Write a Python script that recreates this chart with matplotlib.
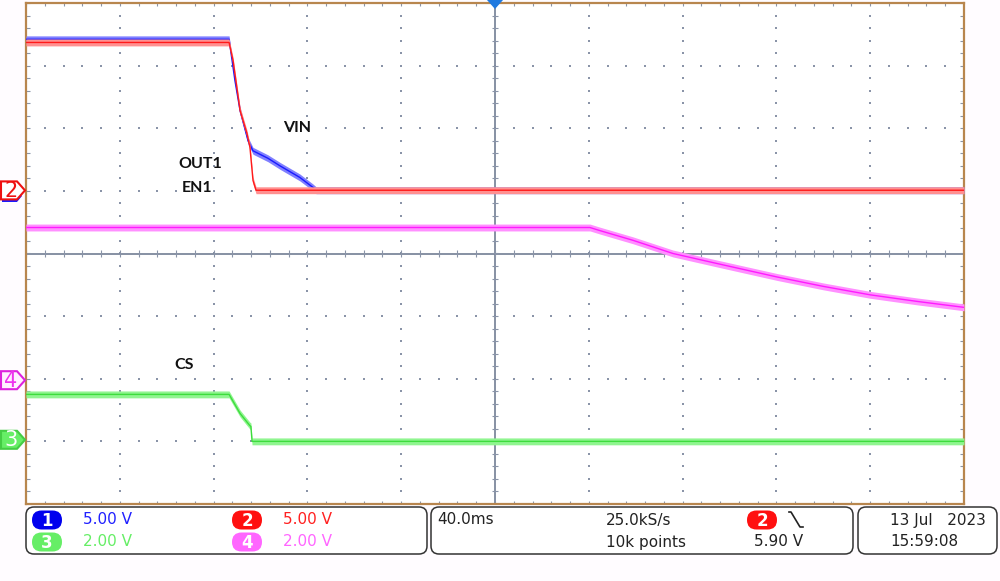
import matplotlib
matplotlib.use("Agg")
import matplotlib.pyplot as plt
import numpy as np
from matplotlib.patches import FancyBboxPatch, Polygon

# scope setup
time_per_div = 40.0  # ms/div
n_xdiv, n_ydiv = 10, 8
ch_scale = {1: 5.0, 2: 5.0, 3: 2.0, 4: 2.0}      # V/div
ch_ground = {1: 1.0, 2: 1.0, 3: -3.0, 4: -2.0}   # ground marker, div from centre

# traces: time in ms, level in V
vin_t = [-200, -113.4, -110.9, -108.7, -105.3, -103.2, -96.8, -91.7, -83.2, -77.6, -76.3, 200]
vin_v = [12.1, 12.1, 8.8, 6.4, 4.0, 3.2, 2.6, 2.0, 1.07, 0.27, 0.05, 0.05]

out1_t = [-200, -113.4, -111.7, -108.7, -105.8, -104.5, -103.2, -101.9, 200]
out1_v = [11.85, 11.85, 10.4, 6.4, 4.6, 3.47, 0.83, 0.05, 0.05]

cs_t = [-200, -113.4, -108.7, -104.5, -104.1, -103.6, 200]
cs_v = [1.5, 1.5, 0.89, 0.5, 0.48, 0.0, 0.0]

en1_t = [-200, 40.5, 44.8, 58.9, 75.9, 94.7, 120.3, 140.0, 160.0, 180.0, 200.0]
en1_v = [4.83, 4.83, 4.73, 4.42, 4.0, 3.68, 3.25, 2.95, 2.68, 2.47, 2.28]

# status bar
ch_labels = ["1", "2", "3", "4"]
ch_scale_text = ["5.00 V", "5.00 V", "2.00 V", "2.00 V"]
timebase_text = "40.0ms"
sample_rate_text = "25.0kS/s"
record_text = "10k points"
trigger_level_text = "5.90 V"
date_text = "13 Jul   2023"
time_text = "15:59:08"

colors = {1: "#1a1aff", 2: "#ff1a1a", 3: "#3ddc3d", 4: "#ff1aff"}
halo = {1: "#8080ff", 2: "#ff9090", 3: "#90f590", 4: "#ff90ff"}
badge_fill = {1: "#0000ee", 2: "#ff1010", 3: "#66ee66", 4: "#ff66ff"}
text_col = {1: "#2020ff", 2: "#ff2020", 3: "#66ee66", 4: "#ff66ff"}

fig = plt.figure(figsize=(10, 5.81), dpi=100)
fig.patch.set_facecolor("#fffcff")

W, H = 1000, 581
ax = fig.add_axes([26 / W, 77 / H, 938 / W, 501 / H])
ax.set_xlim(-n_xdiv / 2, n_xdiv / 2)
ax.set_ylim(-n_ydiv / 2, n_ydiv / 2)
ax.set_facecolor("white")
ax.set_xticks([])
ax.set_yticks([])
for sp in ax.spines.values():
    sp.set_color("#b8864e")
    sp.set_linewidth(1.6)

# graticule
grid_c = "#8a94a8"
minor = np.arange(-n_xdiv / 2, n_xdiv / 2 + 0.01, 0.2)
minor_y = np.arange(-n_ydiv / 2, n_ydiv / 2 + 0.01, 0.2)
for gx in range(-4, 5):
    if gx == 0:
        continue
    ax.scatter(np.full_like(minor_y, gx), minor_y, s=1.2, marker="s", color=grid_c, linewidths=0)
for gy in range(-3, 4):
    if gy == 0:
        continue
    ax.scatter(minor, np.full_like(minor, gy), s=1.2, marker="s", color=grid_c, linewidths=0)
ax.axhline(0, color="#7d889c", lw=1.3, zorder=1)
ax.axvline(0, color="#7d889c", lw=1.3, zorder=1)
ax.vlines(minor, -0.05, 0.05, color=grid_c, lw=0.8)
ax.hlines(minor_y, -0.035, 0.035, color=grid_c, lw=0.8)
# edge ticks
ax.vlines(minor, -4, -3.95, color=grid_c, lw=0.8)
ax.vlines(minor, 3.95, 4, color=grid_c, lw=0.8)
ax.hlines(minor_y, -5, -4.96, color=grid_c, lw=0.8)
ax.hlines(minor_y, 4.96, 5, color=grid_c, lw=0.8)


def draw_trace(ch, t, v, z):
    x = np.array(t) / time_per_div
    y = ch_ground[ch] + np.array(v) / ch_scale[ch]
    band = 0.055
    ax.fill_between(x, y - band, y + band, color=halo[ch], lw=0, zorder=z)
    ax.plot(x, y, color=colors[ch], lw=1.0, zorder=z + 0.5)


draw_trace(4, en1_t, en1_v, 3)
draw_trace(3, cs_t, cs_v, 3)
draw_trace(1, vin_t, vin_v, 4)
draw_trace(2, out1_t, out1_v, 5)

# overlay in pixel coordinates
ov = fig.add_axes([0, 0, 1, 1], zorder=10)
ov.set_xlim(0, W)
ov.set_ylim(H, 0)
ov.axis("off")
ov.patch.set_alpha(0)

lab_font = dict(family=["Lato", "DejaVu Sans"], weight="bold", fontsize=11.5, color="#111111",
                ha="center", va="center")
ov.text(297, 128, "VIN", **lab_font)
ov.text(200, 164, "OUT1", **lab_font)
ov.text(197, 188, "EN1", **lab_font)
ov.text(184, 365, "CS", **lab_font)


def ground_marker(ch, fill, edge, tcol, dy=0):
    yc = 253 - ch_ground[ch] * 62.6 + dy
    pts = [(1, yc - 9), (17, yc - 9), (25, yc), (17, yc + 9), (1, yc + 9)]
    ov.add_patch(Polygon(pts, closed=True, facecolor=fill, edgecolor=edge, lw=1.5))
    ov.text(11, yc + 0.5, ch_labels[ch - 1], color=tcol, fontsize=15, ha="center", va="center")


# channel 1 marker sits behind channel 2
ov.add_patch(Polygon([(2, 190), (17, 190), (22, 196), (17, 202), (2, 202)], closed=True,
                     facecolor="#1a1aff", edgecolor="none"))
ground_marker(2, "white", "#ee1111", "#ee1111")
ground_marker(4, "#fff0ff", "#dd22dd", "#ee33ee", dy=2)
ground_marker(3, "#66ee66", "#44cc44", "white", dy=-1)

# trigger position marker
ov.add_patch(Polygon([(487, 0), (503, 0), (495, 9)], closed=True, facecolor="#1f7ae0", edgecolor="none"))

# status boxes
box_kw = dict(boxstyle="round,pad=0,rounding_size=8", facecolor="white", edgecolor="#333333", lw=1.1)
ov.add_patch(FancyBboxPatch((26, 507), 401, 47, **box_kw))
ov.add_patch(FancyBboxPatch((431, 507), 422, 47, **box_kw))
ov.add_patch(FancyBboxPatch((858, 507), 139, 47, **box_kw))

stat_font = dict(family="DejaVu Sans", fontsize=11, va="center")


def badge(xc, yc, label, fill):
    ov.add_patch(FancyBboxPatch((xc - 15, yc - 9.5), 30, 19,
                                boxstyle="round,pad=0,rounding_size=9.5", facecolor=fill, edgecolor="none"))
    ov.text(xc, yc + 0.5, label, color="white", fontsize=12, weight="bold", ha="center", va="center",
            family="DejaVu Sans")


pos = {1: (47, 520), 2: (247, 520), 3: (47, 542), 4: (247, 542)}
for ch in (1, 2, 3, 4):
    bx, by = pos[ch]
    badge(bx, by, ch_labels[ch - 1], badge_fill[ch])
    ov.text(bx + 36, by, ch_scale_text[ch - 1], color=text_col[ch], ha="left", **stat_font)

dark = "#222222"
ov.text(437, 520, timebase_text, color=dark, ha="left", **stat_font)
ov.text(606, 520, sample_rate_text, color=dark, ha="left", **stat_font)
ov.text(606, 542, record_text, color=dark, ha="left", **stat_font)
badge(762, 520, "2", badge_fill[2])
ov.plot([789, 791, 800, 803], [512, 512, 527, 527], color=dark, lw=1.2)
ov.text(754, 542, trigger_level_text, color=dark, ha="left", **stat_font)
ov.text(890, 520, date_text, color=dark, ha="left", **stat_font)
ov.text(890, 542, time_text, color=dark, ha="left", **stat_font)

fig.savefig("out.png", dpi=100, facecolor=fig.get_facecolor())
